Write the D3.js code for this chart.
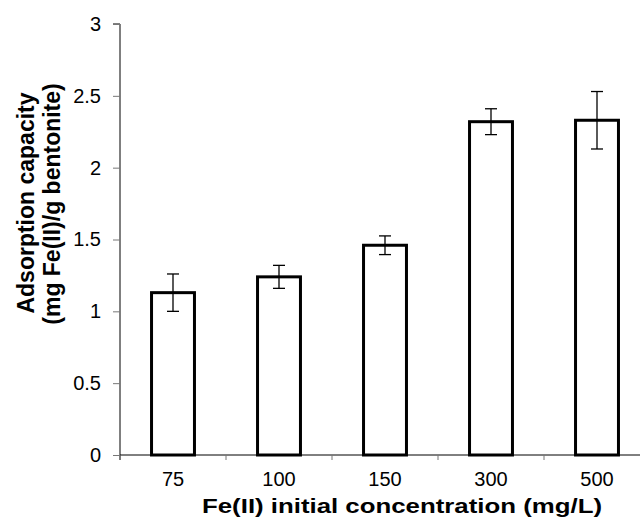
<!DOCTYPE html>
<meta charset="utf-8">
<style>
  body{ margin:0; background:#fff; }
  text{ font-family: Arial, "Liberation Sans", Helvetica, sans-serif; fill:#000; }
  .axisTitle{ font-weight:bold; }
</style>
<body>
<div id="container"></div>
<script src="https://cdnjs.cloudflare.com/ajax/libs/d3/7.8.5/d3.min.js"></script>
<script>

var categories = ['75', '100', '150', '300', '500'];
var capacity = [1.13, 1.24, 1.46, 2.32, 2.33];
var errors = [0.13, 0.08, 0.065, 0.09, 0.20];
var yTicks = [0, 0.5, 1, 1.5, 2, 2.5, 3];

var width = 640, height = 522;
var margin = {top: 24, left: 120, bottom: 67};
var plotRight = 650;  // the plot runs off the right edge in the original

var svg = d3.select('#container').append('svg').attr('width', width).attr('height', height);

var x = d3.scaleBand().domain(categories).range([margin.left, plotRight]).paddingInner(0.595).paddingOuter(0.2975);
var xTicks = d3.scaleBand().domain(categories).range([margin.left, plotRight]);
var y = d3.scaleLinear().domain([0, 3]).range([height - margin.bottom, margin.top]);

// y axis
var yAxis = svg.append('g').attr('transform', 'translate(' + margin.left + ',0)')
  .call(d3.axisLeft(y).tickValues(yTicks).tickFormat(d3.format('')).tickSize(7).tickPadding(12));
yAxis.select('.domain').attr('stroke', '#000').attr('d', 'M-7,' + y(3) + 'H0V' + (y(0) + 5));
yAxis.selectAll('.tick line').attr('stroke', '#777');
yAxis.selectAll('.tick text').attr('font-size', 20).attr('font-family', null);

// x axis: tick marks sit on band edges
var xAxis = svg.append('g').attr('transform', 'translate(0,' + y(0) + ')');
xAxis.append('line').attr('x1', margin.left).attr('x2', plotRight).attr('stroke', '#000');
xAxis.selectAll('line.tk').data(categories).enter().append('line').attr('class', 'tk')
  .attr('x1', function(d){ return xTicks(d); }).attr('x2', function(d){ return xTicks(d); })
  .attr('y1', 0).attr('y2', 5).attr('stroke', '#777');
xAxis.selectAll('text').data(categories).enter().append('text')
  .attr('x', function(d){ return xTicks(d) + xTicks.bandwidth() / 2; })
  .attr('y', 31).attr('text-anchor', 'middle').style('font-size', '20px')
  .text(function(d){ return d; });

// bars
svg.selectAll('rect.bar').data(categories).enter().append('rect').attr('class', 'bar')
  .attr('x', function(d){ return x(d); })
  .attr('y', function(d, i){ return y(capacity[i]); })
  .attr('width', x.bandwidth())
  .attr('height', function(d, i){ return y(0) - y(capacity[i]); })
  .attr('fill', '#fff').attr('stroke', '#000').attr('stroke-width', 3);

// error bars
var eb = svg.selectAll('g.err').data(categories).enter().append('g').attr('class', 'err')
  .attr('transform', function(d){ return 'translate(' + (x(d) + x.bandwidth() / 2) + ',0)'; });
eb.append('line').attr('y1', function(d, i){ return y(capacity[i] + errors[i]); })
  .attr('y2', function(d, i){ return y(capacity[i] - errors[i]); });
eb.append('line').attr('x1', -6).attr('x2', 6)
  .attr('y1', function(d, i){ return y(capacity[i] + errors[i]); })
  .attr('y2', function(d, i){ return y(capacity[i] + errors[i]); });
eb.append('line').attr('x1', -6).attr('x2', 6)
  .attr('y1', function(d, i){ return y(capacity[i] - errors[i]); })
  .attr('y2', function(d, i){ return y(capacity[i] - errors[i]); });
eb.selectAll('line').attr('stroke', '#000').attr('stroke-width', 1.3);

// titles
svg.append('text').attr('class', 'axisTitle').attr('text-anchor', 'middle').style('font-size', '23px')
  .attr('transform', 'translate(34,203) rotate(-90)').text('Adsorption capacity');
svg.append('text').attr('class', 'axisTitle').attr('text-anchor', 'middle').style('font-size', '23px')
  .attr('transform', 'translate(60,204) rotate(-90)').text('(mg Fe(II)/g bentonite)');
svg.append('text').attr('class', 'axisTitle').attr('text-anchor', 'middle')
  .attr('x', 402).attr('y', 513).style('font-size', '21px')
  .attr('textLength', 400).attr('lengthAdjust', 'spacingAndGlyphs')
  .text('Fe(II) initial concentration (mg/L)');

</script>
</body>
</html>
